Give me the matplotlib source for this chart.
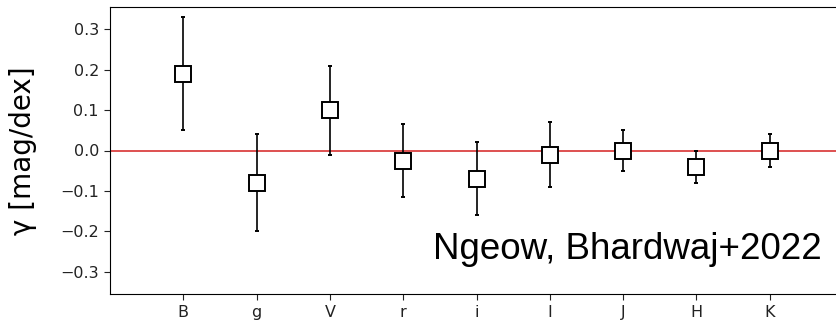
import matplotlib.pyplot as plt

bands = ['B', 'g', 'V', 'r', 'i', 'I', 'J', 'H', 'K']
gamma = [0.19, -0.08, 0.10, -0.025, -0.07, -0.01, 0.00, -0.04, 0.00]
gamma_err = [0.14, 0.12, 0.11, 0.09, 0.09, 0.08, 0.05, 0.04, 0.04]

fig = plt.figure(figsize=(8.37, 3.28), dpi=100)
ax = fig.add_axes([110/837, 1 - 294/328, 733/837, 287/328])

x = list(range(len(bands)))
ax.axhline(0.0, color='#d42020', lw=1.1, zorder=1)
ax.errorbar(x, gamma, yerr=gamma_err, fmt='s', color='black', ms=11,
            mfc='white', mec='black', mew=1.4, elinewidth=1.2,
            capsize=1.2, capthick=1.5, zorder=3)

ax.set_xlim(-1, 9)
ax.set_ylim(-0.355, 0.355)
ax.set_xticks(x)
ax.set_xticklabels(bands)
ax.set_yticks([-0.3, -0.2, -0.1, 0.0, 0.1, 0.2, 0.3])
ax.tick_params(labelsize=11.5, colors='#222222', length=4.5)
ax.set_ylabel('γ [mag/dex]', fontsize=20)
ax.yaxis.set_label_coords(-0.1, 0.5)

ax.text(822/837, 1 - 259/328, 'Ngeow, Bhardwaj+2022', transform=fig.transFigure,
        ha='right', va='baseline', fontsize=26.5, family='Liberation Sans')

fig.savefig('out.png', dpi=100)
